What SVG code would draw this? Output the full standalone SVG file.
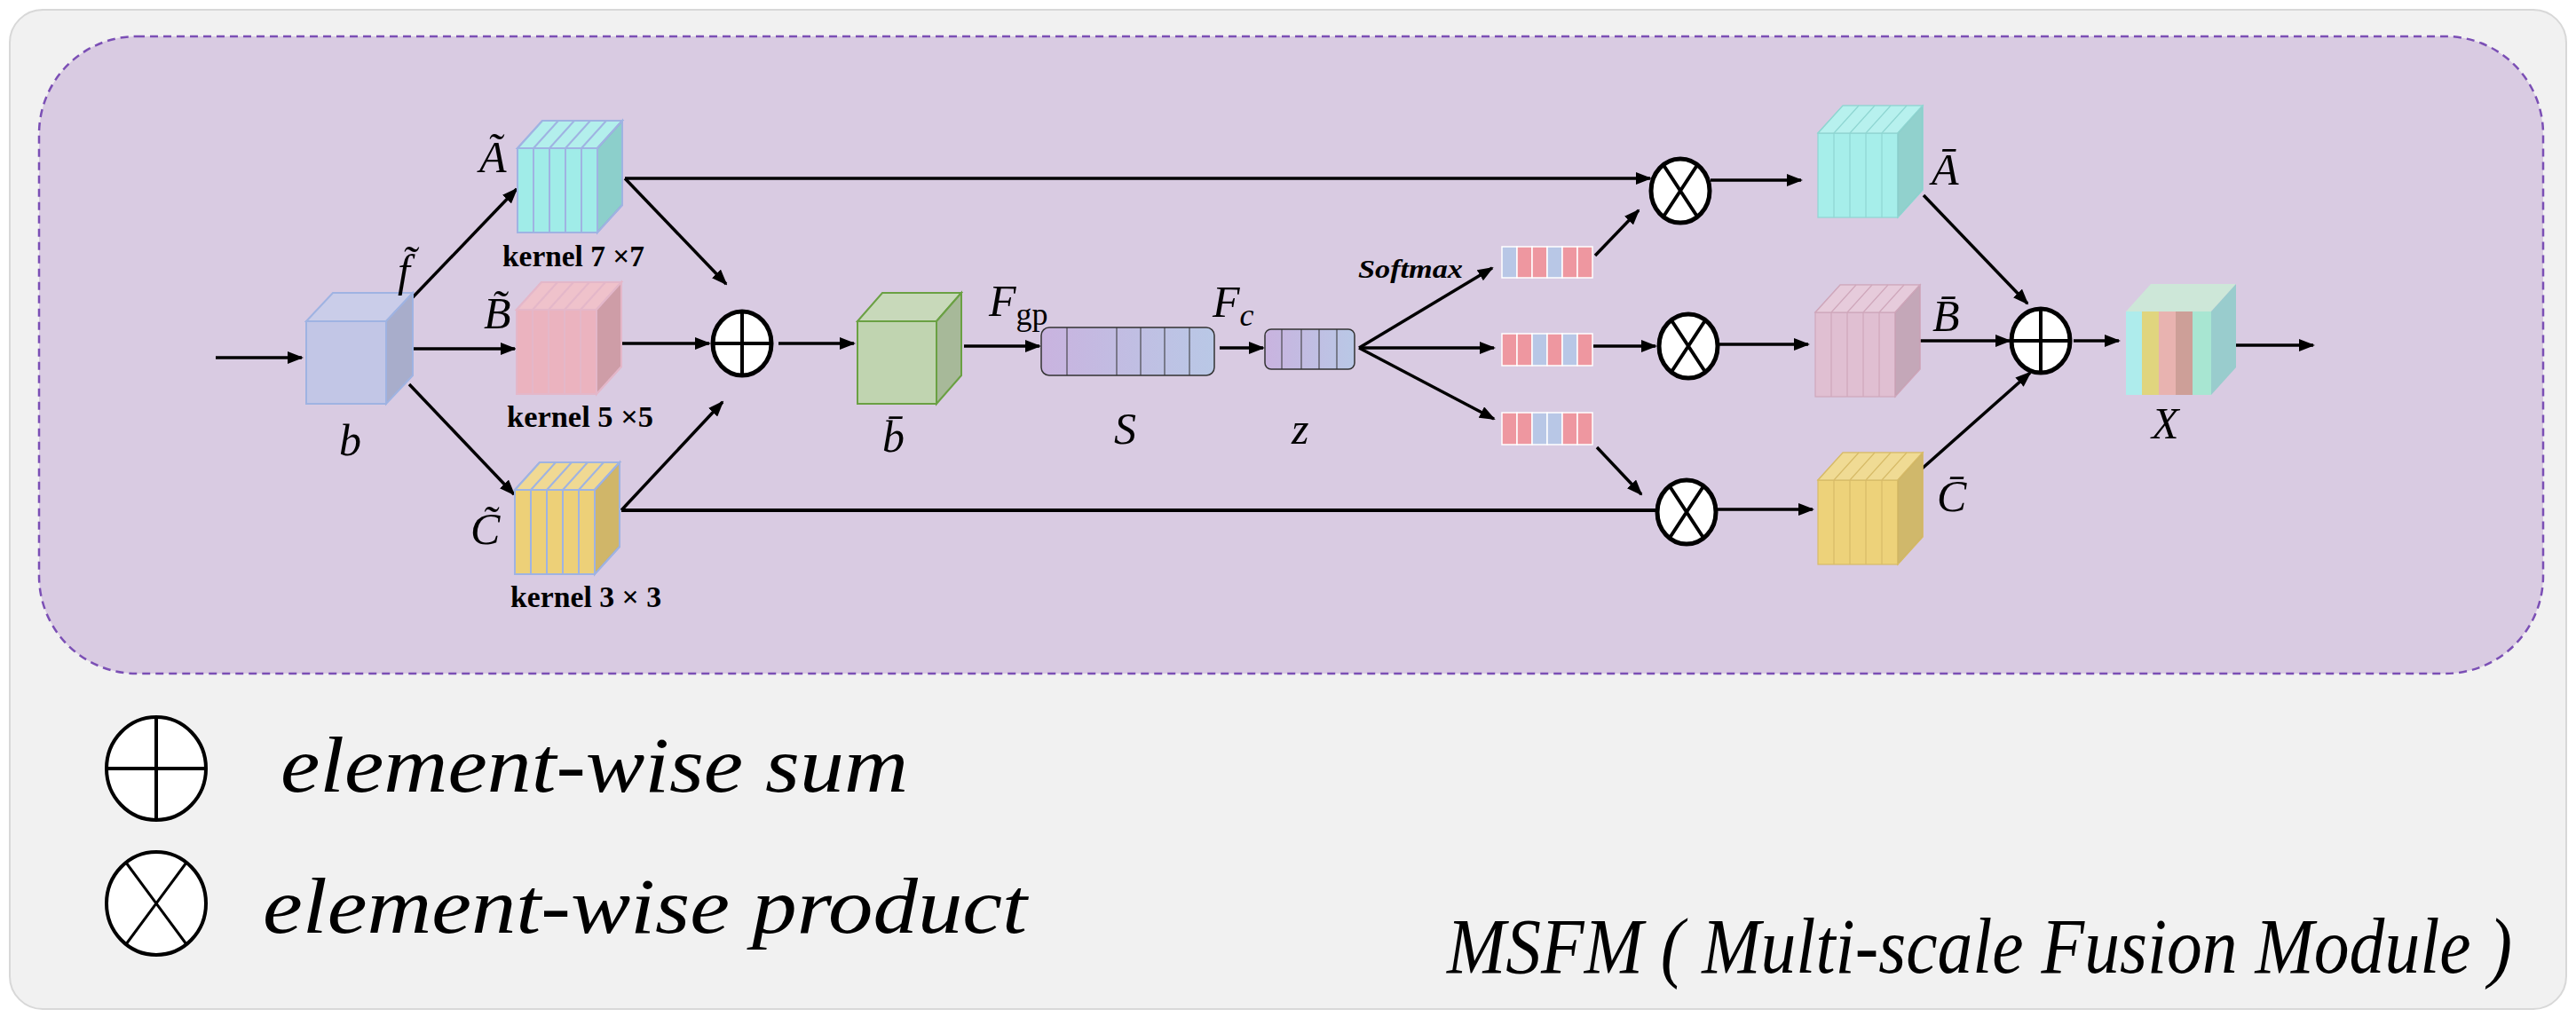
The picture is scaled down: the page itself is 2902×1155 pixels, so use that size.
<svg xmlns="http://www.w3.org/2000/svg" xmlns:xlink="http://www.w3.org/1999/xlink" width="2902" height="1155" viewBox="0 0 2902 1155">
<style>
.ln{stroke:#000;stroke-width:4;fill:none}
.ar{stroke:#000;stroke-width:3.5;fill:none;marker-end:url(#ah)}
.op{fill:#fff;stroke:#000;stroke-width:5}
.m{font-family:"Liberation Serif",serif;font-style:italic;font-size:50px;fill:#000}
.k{font-family:"Liberation Serif",serif;font-weight:bold;font-size:34px;fill:#000}
.lg{font-family:"Liberation Serif",serif;font-style:italic;font-size:88px;fill:#000}
</style>
<defs>
<marker id="ah" markerWidth="18" markerHeight="14" refX="16" refY="7" orient="auto" markerUnits="userSpaceOnUse"><path d="M0,0 L18,7 L0,14 Z" fill="#000"/></marker>
<linearGradient id="gs" x1="0" x2="1"><stop offset="0" stop-color="#c9b3df"/><stop offset="1" stop-color="#b9c8e6"/></linearGradient>
<g id="slab">
<rect x="0" y="0" width="90" height="95"/>
<polygon points="0,0 28,-31 118,-31 90,0"/>
<polygon points="0,0 28,-31 118,-31 90,0" fill="#fff" fill-opacity="0.2"/>
<polygon points="90,0 118,-31 118,64 90,95"/>
<polygon points="90,0 118,-31 118,64 90,95" fill="#000" fill-opacity="0.12"/>
<path d="M18,0V95M36,0V95M54,0V95M72,0V95M18,0L46,-31M36,0L64,-31M54,0L82,-31M72,0L100,-31" fill="none"/>
</g>
<g id="ox"><ellipse cx="0" cy="0" rx="33" ry="36" class="op"/><path d="M-19,-29L19,29M19,-29L-19,29" class="ln"/></g>
<g id="op"><ellipse cx="0" cy="0" rx="33" ry="36" class="op"/><path d="M-33,0H33M0,-36V36" class="ln"/></g>
</defs>
<rect x="11" y="11" width="2880" height="1126" rx="37" fill="#f1f1f1" stroke="#d8d8d8" stroke-width="2"/>
<rect x="44" y="41" width="2821" height="718" rx="110" fill="#d9cbe2" stroke="#7b4fb5" stroke-width="2.5" stroke-dasharray="9,6"/>

<g id="connectors">
<path class="ar" d="M243,403H340"/>
<path class="ar" d="M465,393H580"/>
<path class="ar" d="M465,335L582,213"/>
<path class="ar" d="M461,433L579,557"/>
<path class="ar" d="M704,201L818,320"/>
<path class="ar" d="M697,387H799"/>
<path class="ar" d="M700,575L814,453"/>
<path class="ar" d="M877,387H962"/>
<path class="ar" d="M704,201H1859"/>
<path class="ln" d="M700,575H1866"/>
<path class="ar" d="M1086,390H1171"/>
<path class="ar" d="M1374,392H1423"/>
<path class="ar" d="M1531,392L1681,302"/>
<path class="ar" d="M1531,392H1683"/>
<path class="ar" d="M1531,392L1683,472"/>
<path class="ar" d="M1797,288L1846,237"/>
<path class="ar" d="M1795,390H1865"/>
<path class="ar" d="M1799,504L1849,557"/>
<path class="ar" d="M1927,203H2029"/>
<path class="ar" d="M1935,388H2037"/>
<path class="ar" d="M1933,574H2042"/>
<path class="ar" d="M2167,220L2284,342"/>
<path class="ar" d="M2162,384H2264"/>
<path class="ar" d="M2163,530L2287,420"/>
<path class="ar" d="M2336,384H2387"/>
<path class="ar" d="M2506,389H2606"/>
</g>

<g id="node-b">
<rect x="345" y="362" width="90" height="93" fill="#c2c6e6" stroke="#9fb3e2" stroke-width="2"/>
<polygon points="345,362 375,330 465,330 435,362" fill="#cacde9" stroke="#9fb3e2" stroke-width="2"/>
<polygon points="435,362 465,330 465,423 435,455" fill="#a8adcb" stroke="#9fb3e2" stroke-width="2"/>
<text class="m" x="382" y="513">b</text>
<text class="m" x="448" y="322">f&#x303;</text>
</g>
<g id="node-A-tilde">
<use xlink:href="#slab" x="583" y="167" fill="#a0ece8" stroke="#9fb3e2" stroke-width="2"/>
<text class="m" x="540" y="194">&#xC3;</text>
<text class="k" x="566" y="300" textLength="160" lengthAdjust="spacingAndGlyphs">kernel 7 ×7</text>
</g>
<g id="node-B-tilde">
<use xlink:href="#slab" x="582" y="349" fill="#ebb3bf" stroke="#e4b7c9" stroke-width="2"/>
<text class="m" x="545" y="370">B&#x303;</text>
<text class="k" x="571" y="481" textLength="165" lengthAdjust="spacingAndGlyphs">kernel 5 ×5</text>
</g>
<g id="node-C-tilde">
<use xlink:href="#slab" x="580" y="552" fill="#edd078" stroke="#9fb3e2" stroke-width="2"/>
<text class="m" x="530" y="613">C&#x303;</text>
<text class="k" x="575" y="684" textLength="170" lengthAdjust="spacingAndGlyphs">kernel 3 × 3</text>
</g>
<g id="node-sum1"><use xlink:href="#op" x="836" y="387"/></g>
<g id="node-b-bar">
<rect x="966" y="362" width="89" height="93" fill="#c0d4b0" stroke="#6aa043" stroke-width="2"/>
<polygon points="966,362 994,330 1083,330 1055,362" fill="#c8d9ba" stroke="#6aa043" stroke-width="2"/>
<polygon points="1055,362 1083,330 1083,423 1055,455" fill="#a7b999" stroke="#6aa043" stroke-width="2"/>
<text class="m" x="994" y="509">b&#x304;</text>
</g>
<g id="node-S">
<rect x="1173" y="369" width="195" height="54" rx="9" fill="url(#gs)" stroke="#333" stroke-width="1.5"/>
<path d="M1202,369V423M1258,369V423M1285,369V423M1312,369V423M1340,369V423" stroke="#333" stroke-width="1"/>
<text class="m" x="1114" y="356">F<tspan font-style="normal" font-size="36" dy="10">gp</tspan></text>
<text class="m" x="1255" y="500">S</text>
</g>
<g id="node-z">
<rect x="1425" y="371" width="101" height="45" rx="7" fill="url(#gs)" stroke="#333" stroke-width="1.5"/>
<path d="M1444,371V416M1466,371V416M1486,371V416M1506,371V416" stroke="#333" stroke-width="1"/>
<text class="m" x="1366" y="357">F<tspan font-size="36" dy="10">c</tspan></text>
<text class="m" x="1455" y="500" font-size="42">z</text>
<text x="1530" y="313" font-family="Liberation Serif,serif" font-style="italic" font-weight="bold" font-size="30" textLength="118" lengthAdjust="spacingAndGlyphs">Softmax</text>
</g>
<g id="node-v1" stroke="#fff" stroke-width="1.5">
<rect x="1692" y="278" width="17" height="35" fill="#b8c7e6"/><rect x="1709" y="278" width="17" height="35" fill="#ee97a0"/><rect x="1726" y="278" width="17" height="35" fill="#ee97a0"/><rect x="1743" y="278" width="17" height="35" fill="#b8c7e6"/><rect x="1760" y="278" width="17" height="35" fill="#ee97a0"/><rect x="1777" y="278" width="17" height="35" fill="#ee97a0"/>
</g>
<g id="node-v2" stroke="#fff" stroke-width="1.5">
<rect x="1692" y="376" width="17" height="36" fill="#ee97a0"/><rect x="1709" y="376" width="17" height="36" fill="#ee97a0"/><rect x="1726" y="376" width="17" height="36" fill="#b8c7e6"/><rect x="1743" y="376" width="17" height="36" fill="#ee97a0"/><rect x="1760" y="376" width="17" height="36" fill="#b8c7e6"/><rect x="1777" y="376" width="17" height="36" fill="#ee97a0"/>
</g>
<g id="node-v3" stroke="#fff" stroke-width="1.5">
<rect x="1692" y="465" width="17" height="36" fill="#ee97a0"/><rect x="1709" y="465" width="17" height="36" fill="#ee97a0"/><rect x="1726" y="465" width="17" height="36" fill="#b8c7e6"/><rect x="1743" y="465" width="17" height="36" fill="#b8c7e6"/><rect x="1760" y="465" width="17" height="36" fill="#ee97a0"/><rect x="1777" y="465" width="17" height="36" fill="#ee97a0"/>
</g>
<g id="node-prod1"><use xlink:href="#ox" x="1893" y="215"/></g>
<g id="node-prod2"><use xlink:href="#ox" x="1902" y="390"/></g>
<g id="node-prod3"><use xlink:href="#ox" x="1900" y="577"/></g>
<g id="node-A-bar">
<use xlink:href="#slab" x="2048" y="150" fill="#a6eeea" stroke="#8fd6d2" stroke-width="1.2"/>
<text class="m" x="2176" y="208">&#x100;</text>
</g>
<g id="node-B-bar">
<use xlink:href="#slab" x="2045" y="352" fill="#e0bfd2" stroke="#cfa7bb" stroke-width="1.2"/>
<text class="m" x="2177" y="373">B&#x304;</text>
</g>
<g id="node-C-bar">
<use xlink:href="#slab" x="2048" y="541" fill="#edd27a" stroke="#d7bb68" stroke-width="1.2"/>
<text class="m" x="2182" y="576">C&#x304;</text>
</g>
<g id="node-sum2"><use xlink:href="#op" x="2299" y="384"/></g>
<g id="node-X">
<polygon points="2395,351 2423,320 2519,320 2491,351" fill="#cde7d8"/>
<rect x="2395" y="351" width="18" height="94" fill="#aeecec"/>
<rect x="2413" y="351" width="19" height="94" fill="#e0d57e"/>
<rect x="2432" y="351" width="19" height="94" fill="#e8b3b0"/>
<rect x="2451" y="351" width="19" height="94" fill="#cd9f98"/>
<rect x="2470" y="351" width="21" height="94" fill="#a8e6d2"/>
<polygon points="2491,351 2519,320 2519,414 2491,445" fill="#99cccd"/>
<text class="m" x="2424" y="494">X</text>
</g>
<g id="legend">
<ellipse cx="176" cy="866" rx="56" ry="58" fill="#fff" stroke="#000" stroke-width="4"/>
<path d="M120,866H232M176,808V924" stroke="#000" stroke-width="4"/>
<text class="lg" x="316" y="892" textLength="707" lengthAdjust="spacingAndGlyphs">element-wise sum</text>
<ellipse cx="176" cy="1018" rx="56" ry="58" fill="#fff" stroke="#000" stroke-width="4"/>
<path d="M142,972L210,1064M210,972L142,1064" stroke="#000" stroke-width="3"/>
<text class="lg" x="296" y="1051" textLength="861" lengthAdjust="spacingAndGlyphs">element-wise product</text>
<text class="lg" x="1630" y="1096" font-size="68" textLength="1200" lengthAdjust="spacingAndGlyphs">MSFM ( Multi-scale Fusion Module )</text>
</g>
</svg>
